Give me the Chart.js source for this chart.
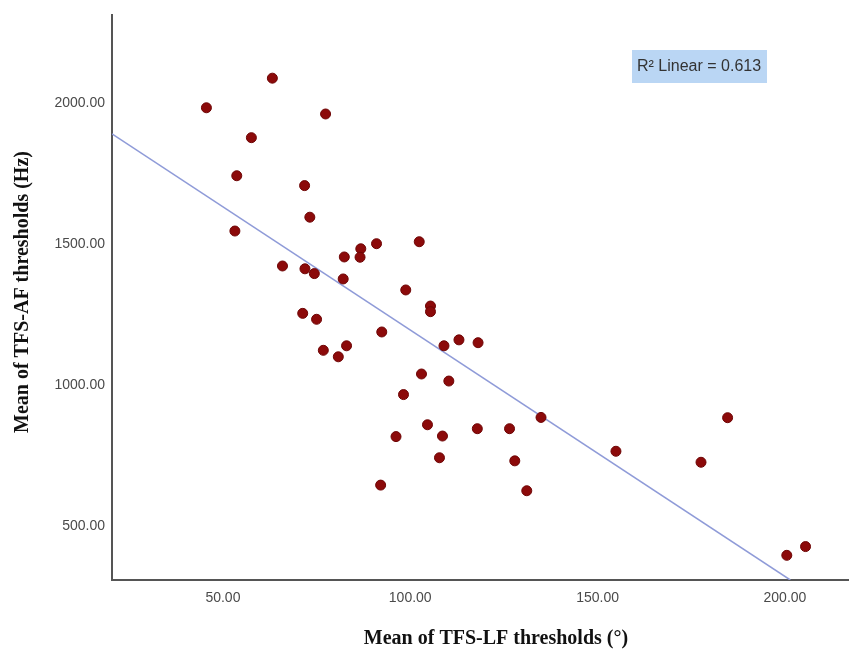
<!DOCTYPE html>
<html>
<head>
<meta charset="utf-8">
<script src="https://cdn.jsdelivr.net/npm/chart.js@4.4.0/dist/chart.umd.min.js"></script>
<style>
  html, body { margin: 0; padding: 0; background: #fff; }
  #wrap { width: 849px; height: 652px; }
</style>
</head>
<body>
<div id="wrap"><canvas id="scatter" width="849" height="652"></canvas></div>
<script>
// Mean of TFS-LF thresholds (deg) vs Mean of TFS-AF thresholds (Hz)
const tfsLF = [63.2, 45.6, 77.4, 57.6, 53.7, 71.8, 73.2, 53.2, 91.0, 102.4,
               86.8, 86.6, 82.4, 65.9, 71.9, 74.4, 82.1, 98.8, 105.4, 105.4,
               71.3, 75.0, 92.4, 76.8, 83.0, 80.8, 109.0, 113.0, 118.1, 103.0,
               110.3, 98.2, 104.6, 108.6, 96.2, 117.9, 126.5, 134.9, 107.8, 127.9,
               92.1, 131.1, 154.9, 177.6, 184.7, 200.5, 205.5];
const tfsAF = [2087, 1982, 1960, 1876, 1741, 1706, 1594, 1545, 1500, 1507,
               1482, 1452, 1453, 1421, 1411, 1394, 1375, 1336, 1279, 1259,
               1253, 1232, 1187, 1122, 1138, 1099, 1138, 1159, 1149, 1038,
               1013, 965, 858, 818, 816, 844, 844, 884, 741, 730,
               644, 624, 764, 725, 883, 395, 426];

const xTicks = [50, 100, 150, 200];
const yTicks = [500, 1000, 1500, 2000];
const xRange = [20.4, 217.1];
const yRange = [307.5, 2311];

// fit line
const fitIntercept = 2068;
const fitSlope = -8.74;
const rSquared = '0.613';

const points = tfsLF.map((x, i) => ({x: x, y: tfsAF[i]}));
const xEnd = (yRange[0] - fitIntercept) / fitSlope;
const fitLine = [
  {x: xRange[0], y: fitIntercept + fitSlope * xRange[0]},
  {x: xEnd, y: yRange[0]}
];

const tickFont = {family: '"Liberation Sans", Arial, sans-serif', size: 14};
const tickColor = '#4a4a4a';

const overlay = {
  id: 'overlay',
  afterDraw(chart) {
    const c = chart.ctx;
    c.save();
    // R2 box
    c.fillStyle = '#bad6f4';
    c.fillRect(632, 50, 135, 33);
    c.fillStyle = '#333';
    c.font = '16px "Liberation Sans", Arial, sans-serif';
    c.textBaseline = 'middle';
    c.textAlign = 'left';
    c.fillText('R\u00b2 Linear = ' + rSquared, 637, 67);
    // axis titles
    c.fillStyle = '#111';
    c.font = 'bold 20px "Liberation Serif", "Times New Roman", serif';
    c.textAlign = 'center';
    c.fillText('Mean of TFS-LF thresholds (\u00b0)', 496, 639);
    c.translate(23, 292);
    c.rotate(-Math.PI / 2);
    c.fillText('Mean of TFS-AF thresholds (Hz)', 0, 0);
    c.restore();
  }
};

new Chart(document.getElementById('scatter'), {
  type: 'scatter',
  data: {
    datasets: [{
      label: 'TFS',
      data: points,
      backgroundColor: '#8c0a0a',
      borderColor: '#6e0505',
      borderWidth: 1,
      pointRadius: 5,
      pointHoverRadius: 5
    },
    {
      type: 'line',
      label: 'Fit',
      data: fitLine,
      borderColor: '#8f9bd8',
      borderWidth: 1.5,
      pointRadius: 0,
      fill: false
    }]
  },
  options: {
    responsive: false,
    animation: false,
    layout: {autoPadding: false, padding: {top: 15, right: 0, left: 0, bottom: 0}},
    plugins: {legend: {display: false}, tooltip: {enabled: false}},
    scales: {
      x: {
        type: 'linear',
        min: xRange[0],
        max: xRange[1],
        afterBuildTicks: s => { s.ticks = xTicks.map(v => ({value: v})); },
        afterFit: s => { s.height = 72; s.paddingLeft = 0; s.paddingRight = 0; },
        grid: {display: false, drawTicks: false},
        border: {display: true, color: '#555', width: 2},
        ticks: {
          padding: 10,
          font: tickFont,
          color: tickColor,
          maxRotation: 0,
          callback: v => v.toFixed(2)
        }
      },
      y: {
        type: 'linear',
        min: yRange[0],
        max: yRange[1],
        afterBuildTicks: s => { s.ticks = yTicks.map(v => ({value: v})); },
        afterFit: s => { s.width = 112; s.paddingTop = 0; s.paddingBottom = 0; },
        grid: {display: false, drawTicks: false},
        border: {display: true, color: '#555', width: 2},
        ticks: {
          padding: 7,
          font: tickFont,
          color: tickColor,
          callback: v => v.toFixed(2)
        }
      }
    }
  },
  plugins: [overlay]
});
</script>
</body>
</html>
